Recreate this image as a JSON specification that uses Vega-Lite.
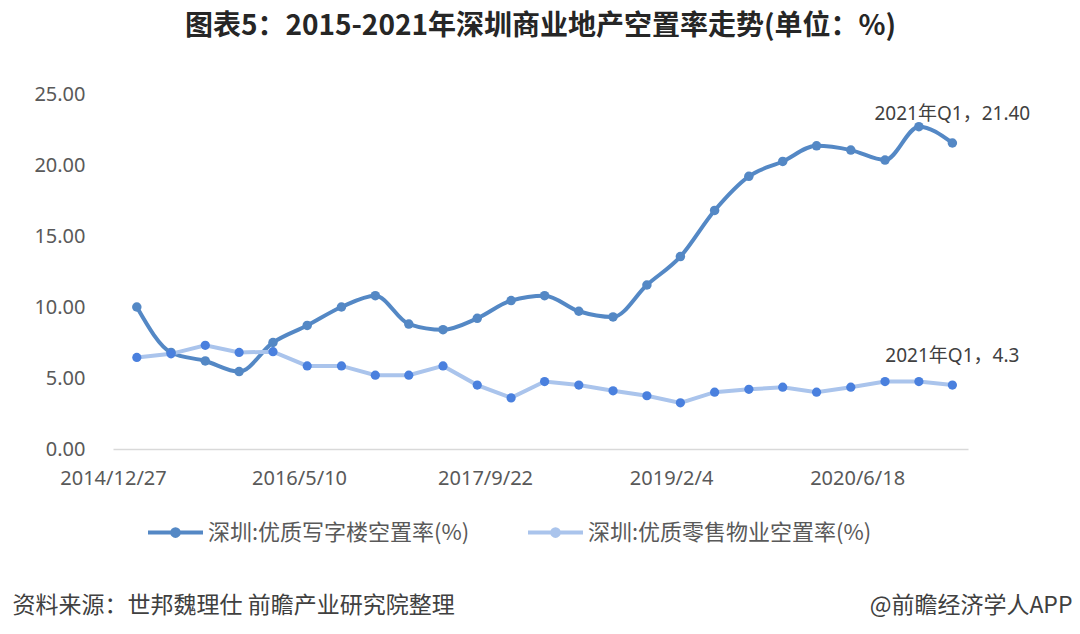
{
  "$schema": "https://vega.github.io/schema/vega-lite/v6.json",
  "width": 855,
  "height": 355,
  "autosize": {"type": "none"},
  "padding": {"left": 113, "top": 94, "right": 112, "bottom": 185},
  "background": "white",
  "config": {"view": {"stroke": null}},
  "title": {
    "text": "图表5：2015-2021年深圳商业地产空置率走势(单位：%)",
    "font": "Noto Sans CJK SC",
    "fontSize": 28,
    "fontWeight": "bold",
    "color": "#262626",
    "anchor": "middle",
    "offset": 43
  },
  "datasets": {
    "rates": [
      {"date": "2015/03/01", "series": "深圳:优质写字楼空置率(%)", "value": 10.0},
      {"date": "2015/06/01", "series": "深圳:优质写字楼空置率(%)", "value": 6.8},
      {"date": "2015/09/01", "series": "深圳:优质写字楼空置率(%)", "value": 6.2},
      {"date": "2015/12/01", "series": "深圳:优质写字楼空置率(%)", "value": 5.45},
      {"date": "2016/03/01", "series": "深圳:优质写字楼空置率(%)", "value": 7.5},
      {"date": "2016/06/01", "series": "深圳:优质写字楼空置率(%)", "value": 8.7},
      {"date": "2016/09/01", "series": "深圳:优质写字楼空置率(%)", "value": 10.0},
      {"date": "2016/12/01", "series": "深圳:优质写字楼空置率(%)", "value": 10.8},
      {"date": "2017/03/01", "series": "深圳:优质写字楼空置率(%)", "value": 8.8},
      {"date": "2017/06/01", "series": "深圳:优质写字楼空置率(%)", "value": 8.4},
      {"date": "2017/09/01", "series": "深圳:优质写字楼空置率(%)", "value": 9.2},
      {"date": "2017/12/01", "series": "深圳:优质写字楼空置率(%)", "value": 10.45},
      {"date": "2018/03/01", "series": "深圳:优质写字楼空置率(%)", "value": 10.8},
      {"date": "2018/06/01", "series": "深圳:优质写字楼空置率(%)", "value": 9.7},
      {"date": "2018/09/01", "series": "深圳:优质写字楼空置率(%)", "value": 9.3},
      {"date": "2018/12/01", "series": "深圳:优质写字楼空置率(%)", "value": 11.55},
      {"date": "2019/03/01", "series": "深圳:优质写字楼空置率(%)", "value": 13.55},
      {"date": "2019/06/01", "series": "深圳:优质写字楼空置率(%)", "value": 16.8},
      {"date": "2019/09/01", "series": "深圳:优质写字楼空置率(%)", "value": 19.2},
      {"date": "2019/12/01", "series": "深圳:优质写字楼空置率(%)", "value": 20.25},
      {"date": "2020/03/01", "series": "深圳:优质写字楼空置率(%)", "value": 21.35},
      {"date": "2020/06/01", "series": "深圳:优质写字楼空置率(%)", "value": 21.05},
      {"date": "2020/09/01", "series": "深圳:优质写字楼空置率(%)", "value": 20.35},
      {"date": "2020/12/01", "series": "深圳:优质写字楼空置率(%)", "value": 22.7},
      {"date": "2021/03/01", "series": "深圳:优质写字楼空置率(%)", "value": 21.55},
      {"date": "2015/03/01", "series": "深圳:优质零售物业空置率(%)", "value": 6.45},
      {"date": "2015/06/01", "series": "深圳:优质零售物业空置率(%)", "value": 6.7},
      {"date": "2015/09/01", "series": "深圳:优质零售物业空置率(%)", "value": 7.3},
      {"date": "2015/12/01", "series": "深圳:优质零售物业空置率(%)", "value": 6.8},
      {"date": "2016/03/01", "series": "深圳:优质零售物业空置率(%)", "value": 6.85},
      {"date": "2016/06/01", "series": "深圳:优质零售物业空置率(%)", "value": 5.85},
      {"date": "2016/09/01", "series": "深圳:优质零售物业空置率(%)", "value": 5.85},
      {"date": "2016/12/01", "series": "深圳:优质零售物业空置率(%)", "value": 5.2},
      {"date": "2017/03/01", "series": "深圳:优质零售物业空置率(%)", "value": 5.2},
      {"date": "2017/06/01", "series": "深圳:优质零售物业空置率(%)", "value": 5.85},
      {"date": "2017/09/01", "series": "深圳:优质零售物业空置率(%)", "value": 4.5},
      {"date": "2017/12/01", "series": "深圳:优质零售物业空置率(%)", "value": 3.6},
      {"date": "2018/03/01", "series": "深圳:优质零售物业空置率(%)", "value": 4.75},
      {"date": "2018/06/01", "series": "深圳:优质零售物业空置率(%)", "value": 4.5},
      {"date": "2018/09/01", "series": "深圳:优质零售物业空置率(%)", "value": 4.1},
      {"date": "2018/12/01", "series": "深圳:优质零售物业空置率(%)", "value": 3.75},
      {"date": "2019/03/01", "series": "深圳:优质零售物业空置率(%)", "value": 3.25},
      {"date": "2019/06/01", "series": "深圳:优质零售物业空置率(%)", "value": 4.0},
      {"date": "2019/09/01", "series": "深圳:优质零售物业空置率(%)", "value": 4.2},
      {"date": "2019/12/01", "series": "深圳:优质零售物业空置率(%)", "value": 4.35},
      {"date": "2020/03/01", "series": "深圳:优质零售物业空置率(%)", "value": 4.0},
      {"date": "2020/06/01", "series": "深圳:优质零售物业空置率(%)", "value": 4.35},
      {"date": "2020/09/01", "series": "深圳:优质零售物业空置率(%)", "value": 4.75},
      {"date": "2020/12/01", "series": "深圳:优质零售物业空置率(%)", "value": 4.75},
      {"date": "2021/03/01", "series": "深圳:优质零售物业空置率(%)", "value": 4.5}
    ],
    "notes": [
      {"date": "2021/03/01", "value": 21.55, "label": "2021年Q1，21.40"},
      {"date": "2021/03/01", "value": 4.5, "label": "2021年Q1，4.3"}
    ]
  },
  "data": {"name": "rates"},
  "encoding": {
    "x": {
      "field": "date",
      "type": "temporal",
      "scale": {
        "domain": [{"year": 2014, "month": 12, "date": 27}, {"year": 2021, "month": 4, "date": 12}]
      },
      "axis": {
        "values": [
          {"year": 2014, "month": 12, "date": 27},
          {"year": 2016, "month": 5, "date": 10},
          {"year": 2017, "month": 9, "date": 22},
          {"year": 2019, "month": 2, "date": 4},
          {"year": 2020, "month": 6, "date": 18}
        ],
        "format": "%Y/%-m/%-d",
        "labelFont": "Noto Sans",
        "labelFontSize": 20,
        "labelColor": "#595959",
        "labelPadding": 19,
        "labelOverlap": false,
        "labelFlush": false,
        "ticks": false,
        "grid": false,
        "domainColor": "#d9d9d9",
        "domainWidth": 1.5,
        "title": "资料来源：世邦魏理仕 前瞻产业研究院整理",
        "titleFont": "Noto Sans CJK SC",
        "titleFontSize": 23,
        "titleFontWeight": "normal",
        "titleColor": "#404040",
        "titleAlign": "left",
        "titleBaseline": "middle",
        "titleX": -101,
        "titleY": 156
      }
    },
    "y": {
      "field": "value",
      "type": "quantitative",
      "scale": {"domain": [0, 25], "nice": false},
      "axis": {
        "values": [0, 5, 10, 15, 20, 25],
        "format": ".2f",
        "labelFont": "Noto Sans",
        "labelFontSize": 20,
        "labelColor": "#595959",
        "labelPadding": 28,
        "ticks": false,
        "domain": false,
        "grid": false,
        "title": "@前瞻经济学人APP",
        "titleFont": "Noto Sans CJK SC",
        "titleFontSize": 23,
        "titleFontWeight": "normal",
        "titleColor": "#404040",
        "titleAngle": 0,
        "titleAlign": "right",
        "titleBaseline": "middle",
        "titleX": 959,
        "titleY": 511
      }
    }
  },
  "layer": [
    {
      "transform": [{"filter": "datum.series === '深圳:优质写字楼空置率(%)'"}],
      "mark": {"type": "line", "interpolate": "monotone", "strokeWidth": 4},
      "encoding": {
        "color": {
          "field": "series",
          "type": "nominal",
          "scale": {
            "domain": ["深圳:优质写字楼空置率(%)", "深圳:优质零售物业空置率(%)"],
            "range": ["#5488c5", "#aac4ec"]
          },
          "legend": {
            "orient": "none",
            "legendX": 33,
            "legendY": 409,
            "direction": "horizontal",
            "title": null,
            "symbolType": "M-1,0L1,0M-0.12,0A0.12,0.12,0,1,0,0.12,0A0.12,0.12,0,1,0,-0.12,0Z",
            "symbolSize": 3025,
            "symbolStrokeWidth": 4,
            "labelFont": "Noto Sans CJK SC",
            "labelFontSize": 22,
            "labelColor": "#595959",
            "labelOffset": 3,
            "labelLimit": 400,
            "columnPadding": 50
          }
        }
      }
    },
    {
      "transform": [{"filter": "datum.series === '深圳:优质零售物业空置率(%)'"}],
      "mark": {"type": "line", "interpolate": "linear", "strokeWidth": 4},
      "encoding": {
        "color": {"field": "series", "type": "nominal"}
      }
    },
    {
      "transform": [{"filter": "datum.series === '深圳:优质写字楼空置率(%)'"}],
      "mark": {"type": "point", "filled": true, "size": 90, "opacity": 1, "color": "#5488c5"},
      "encoding": {}
    },
    {
      "transform": [{"filter": "datum.series === '深圳:优质零售物业空置率(%)'"}],
      "mark": {"type": "point", "filled": true, "size": 85, "opacity": 1, "color": "#4a80de"},
      "encoding": {}
    },
    {
      "data": {"name": "notes"},
      "mark": {
        "type": "text",
        "align": "center",
        "baseline": "middle",
        "dy": -29,
        "font": "'Noto Sans', 'Noto Sans CJK SC'",
        "fontSize": 19,
        "color": "#404040"
      },
      "encoding": {
        "text": {"field": "label", "type": "nominal"}
      }
    }
  ]
}
